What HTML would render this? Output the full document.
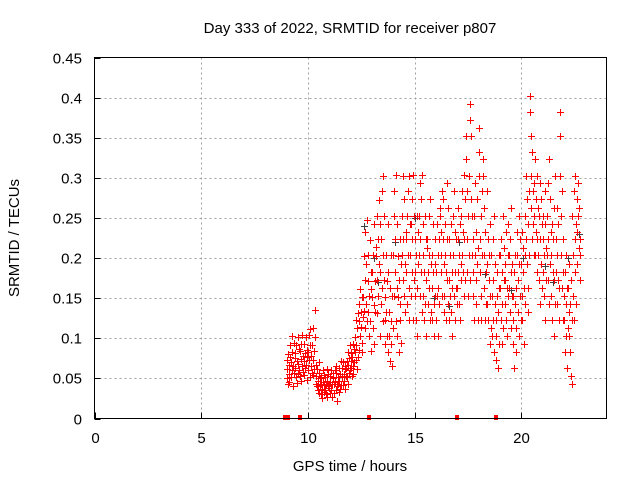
<!DOCTYPE html>
<html><head><meta charset="utf-8"><style>
body{margin:0;background:#fff}
svg{display:block;font-family:"Liberation Sans",sans-serif}
</style></head><body>
<svg id="chart" width="640" height="480" xmlns="http://www.w3.org/2000/svg">
<rect width="640" height="480" fill="#fff"/>
<text x="350" y="33" font-size="15" text-anchor="middle">Day 333 of 2022, SRMTID for receiver p807</text>
<g id="grid"></g>
<g id="axes"></g>
<g id="dark"></g>
<g id="red"></g>
<rect x="94.5" y="57.5" width="512" height="361" fill="none" stroke="#000" stroke-width="1"/>
<text x="350" y="471" font-size="15" text-anchor="middle">GPS time / hours</text>
<text x="19" y="238" font-size="15" text-anchor="middle" transform="rotate(-90 19 238)">SRMTID / TECUs</text>
</svg>
<script>
const xTicks=[0,5,10,15,20];
const yTicks=[0,0.05,0.1,0.15,0.2,0.25,0.3,0.35,0.4,0.45];
const yTickLabels=["0","0.05","0.1","0.15","0.2","0.25","0.3","0.35","0.4","0.45"];
const binStart=[9.0,9.2,9.4,9.6,9.8,10.0,10.2,10.4,10.6,10.8,11.0,11.2,11.4,11.6,11.8,12.0,12.2,12.4,12.6,12.8,13.0,13.2,13.4,13.6,13.8,14.0,14.2,14.4,14.6,14.8,15.0,15.2,15.4,15.6,15.8,16.0,16.2,16.4,16.6,16.8,17.0,17.2,17.4,17.6,17.8,18.0,18.2,18.4,18.6,18.8,19.0,19.2,19.4,19.6,19.8,20.0,20.2,20.4,20.6,20.8,21.0,21.2,21.4,21.6,21.8,22.0,22.2,22.4,22.6];
const binValues=[
[.062,.051,.073,.043,.081,.055,.067,.046,.092,.077],
[.071,.052,.103,.061,.083,.041,.066,.094,.057,.076],
[.082,.063,.052,.091,.072,.044,.101,.068,.056,.087],
[.061,.084,.053,.074,.093,.047,.104,.066,.078,.058],
[.072,.093,.054,.063,.082,.102,.067,.048,.086,.077],
[.083,.061,.104,.073,.052,.092,.112,.066,.078,.057],
[.091,.073,.054,.113,.062,.084,.102,.135,.067,.043],
[.053,.041,.062,.036,.047,.071,.032,.057,.042,.051],
[.043,.031,.052,.037,.026,.046,.061,.042,.033,.054],
[.036,.052,.043,.031,.047,.062,.027,.041,.056,.038],
[.042,.032,.053,.046,.036,.061,.027,.043,.057,.051],
[.052,.043,.032,.061,.046,.036,.057,.066,.041,.022],
[.043,.052,.063,.033,.047,.037,.056,.072,.042,.053],
[.052,.063,.042,.071,.056,.047,.066,.037,.062,.053],
[.063,.072,.052,.083,.067,.043,.076,.057,.091,.061],
[.072,.063,.082,.053,.077,.066,.093,.056,.087,.071],
[.083,.102,.073,.123,.092,.062,.113,.077,.132,.086],
[.121,.143,.103,.162,.114,.133,.083,.152,.094,.127],
[.152,.203,.134,.232,.173,.113,.192,.143,.247,.122],
[.133,.172,.204,.103,.153,.223,.122,.183,.084,.162],
[.152,.183,.113,.204,.142,.243,.093,.172,.133,.214],
[.203,.252,.173,.132,.224,.153,.272,.193,.103,.242],
[.183,.224,.143,.283,.163,.122,.204,.302,.173,.253],
[.152,.123,.093,.204,.133,.172,.103,.243,.083,.182],
[.133,.103,.072,.163,.122,.093,.204,.066,.153,.113],
[.204,.252,.153,.283,.183,.224,.122,.304,.163,.243],
[.103,.152,.203,.083,.173,.123,.224,.143,.193,.094],
[.253,.204,.302,.173,.224,.153,.273,.193,.133,.232],
[.224,.183,.253,.143,.204,.283,.163,.302,.123,.243],
[.204,.243,.153,.273,.183,.224,.123,.304,.173,.253],
[.183,.153,.224,.123,.204,.253,.163,.103,.193,.232],
[.253,.204,.293,.153,.224,.273,.183,.304,.133,.243],
[.153,.204,.123,.183,.253,.143,.224,.103,.173,.213],
[.224,.183,.143,.253,.204,.163,.123,.273,.193,.133],
[.163,.204,.123,.243,.183,.143,.103,.224,.153,.193],
[.123,.183,.153,.243,.204,.103,.163,.224,.143,.263],
[.253,.204,.232,.183,.283,.153,.224,.273,.133,.193],
[.153,.204,.243,.123,.183,.293,.173,.224,.143,.263],
[.173,.123,.224,.153,.204,.133,.243,.183,.103,.163],
[.204,.253,.153,.283,.183,.232,.123,.224,.163,.143],
[.163,.224,.183,.263,.143,.204,.123,.243,.173,.193],
[.253,.204,.283,.183,.232,.304,.153,.224,.173,.273],
[.352,.323,.224,.283,.183,.253,.153,.204,.302,.173],
[.392,.372,.352,.273,.204,.253,.153,.224,.183,.123],
[.253,.204,.293,.173,.232,.143,.273,.193,.123,.213],
[.362,.332,.302,.224,.183,.153,.253,.123,.204,.283],
[.323,.302,.263,.204,.163,.123,.232,.183,.143,.283],
[.193,.143,.224,.123,.173,.204,.093,.153,.243,.113],
[.204,.153,.103,.224,.173,.123,.253,.083,.193,.143],
[.103,.073,.123,.153,.183,.063,.133,.204,.093,.163],
[.204,.163,.123,.224,.093,.183,.143,.253,.113,.173],
[.213,.173,.143,.193,.123,.232,.163,.103,.204,.153],
[.243,.204,.163,.133,.224,.183,.113,.263,.153,.193],
[.153,.123,.093,.183,.063,.143,.204,.113,.083,.163],
[.204,.232,.173,.133,.253,.193,.103,.153,.224,.123],
[.193,.153,.232,.123,.183,.213,.093,.163,.143,.204],
[.253,.302,.224,.193,.273,.163,.243,.133,.204,.283],
[.402,.382,.352,.302,.263,.224,.332,.283,.243,.204],
[.293,.253,.204,.323,.232,.273,.183,.302,.224,.263],
[.204,.253,.173,.293,.224,.143,.273,.193,.243,.163],
[.224,.183,.253,.153,.204,.283,.123,.243,.173,.213],
[.253,.204,.293,.173,.224,.323,.143,.273,.193,.232],
[.204,.153,.243,.123,.183,.224,.103,.173,.263,.143],
[.302,.224,.183,.263,.143,.204,.173,.243,.123,.163],
[.382,.352,.302,.253,.204,.163,.283,.224,.123,.183],
[.153,.123,.083,.183,.103,.143,.204,.063,.163,.113],
[.163,.133,.103,.193,.083,.143,.053,.173,.123,.043],
[.253,.204,.153,.283,.123,.224,.183,.302,.143,.243],
[.273,.232,.193,.293,.253,.213,.263,.204,.173,.224]];
const darkTimes=[12.65,13.1,13.3,14.1,15.0,15.9,16.6,17.1,18.3,19.5,20.1,21.1,21.5,22.2,22.7];
const darkValues=[.24,.2,.17,.22,.25,.15,.14,.22,.18,.16,.2,.19,.17,.2,.23];
const zeroTimes=[8.95,9.05,9.65,12.85,17.0,18.8];
const X0=94.5,X1=606.5,Y0=418.5,Y1=57.5;
const xs=t=>X0+(t/24)*(X1-X0);
const ys=v=>Y0-(v/0.45)*(Y0-Y1);
const NS="http://www.w3.org/2000/svg";
function mk(tag,at,parent){const e=document.createElementNS(NS,tag);for(const k in at)e.setAttribute(k,at[k]);parent.appendChild(e);return e;}
const grid=document.getElementById('grid'),axes=document.getElementById('axes');
xTicks.forEach(t=>{const x=Math.round(xs(t))+0.5;
 if(t>0){const g=mk('line',{x1:x,x2:x,y1:Y1,y2:Y0,stroke:'#a0a0a0','stroke-dasharray':'2,3'},grid);
 
 }
 const tk=mk('line',{x1:x,x2:x,y1:Y0,y2:Y0-6,stroke:'#000'},axes);
 
 
 const tx=mk('text',{x:x,y:443,'font-size':15,'text-anchor':'middle'},axes);tx.textContent=t;
 
 
});
yTicks.forEach((v,i)=>{const y=Math.round(ys(v))+0.5;
 if(v>0&&v<0.45){const g=mk('line',{x1:X0,x2:X1,y1:y,y2:y,stroke:'#a0a0a0','stroke-dasharray':'2,3'},grid);
 
 }
 const tk=mk('line',{x1:X0,x2:X0+6,y1:y,y2:y,stroke:'#000'},axes);
 
 
 const tx=mk('text',{x:82,y:y+5,'font-size':15,'text-anchor':'end'},axes);tx.textContent=yTickLabels[i];
 
 
});
function plus(parent,t,v,col){const x=Math.round(xs(t))+0.5,y=Math.round(ys(v))+0.5;
 return mk('path',{d:'M'+(x-3.5)+' '+y+'h7M'+x+' '+(y-3.5)+'v7',stroke:col,'stroke-width':1,fill:'none'},parent);}
const dark=document.getElementById('dark'),red=document.getElementById('red');
darkTimes.forEach((t,i)=>{const p=plus(dark,t,darkValues[i],'#404040');
 
 });
binStart.forEach((t0,b)=>{const vals=binValues[b];vals.forEach((v,j)=>{
 const p=plus(red,t0+0.2*j/vals.length,v,'#ff0000');
 
 });});
zeroTimes.forEach(t=>{const p=mk('rect',{x:Math.round(xs(t))-2,y:415,width:4,height:5,fill:'#ff0000'},red);
 
 });
</script>
</body></html>
